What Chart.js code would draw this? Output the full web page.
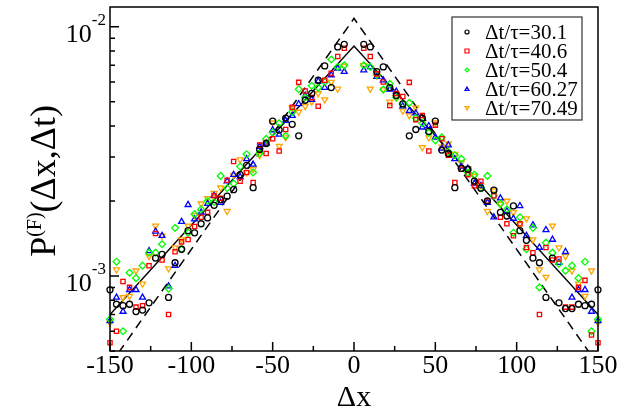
<!DOCTYPE html>
<html>
<head>
<meta charset="utf-8">
<script src="https://cdn.jsdelivr.net/npm/chart.js@4.4.0/dist/chart.umd.min.js"></script>
<style>
  html, body { margin: 0; background: #fff; }
</style>
</head>
<body>
<canvas id="chart" width="644" height="410"></canvas>
<script>
// displacement bins (left wing, then right wing)
const dx = [-150,-146,-142,-138,-134,-130,-126,-122,-118,-114,-110,-106,-102,-98,-94,-90,-86,-82,-78,-74,-70,-66,-62,-58,-54,-50,-46,-42,-38,-34,-30,-26,-22,-18,-14,-10,-6,
  6,10,14,18,22,26,30,34,38,42,46,50,54,58,62,66,70,74,78,82,86,90,94,98,102,106,110,114,118,122,126,130,134,138,142,146,150];

// P(dx,dt) in units of 1e-3, one array per dt/tau
const p30 = [0.88,0.77,0.76,0.77,0.72,0.73,0.78,1.18,1.22,0.82,1.13,1.28,1.52,1.49,1.62,1.71,1.92,2.02,2.09,2.22,2.55,2.78,2.26,3.22,3.40,4.18,3.85,4.30,4.06,3.65,5.07,5.40,6.10,6.96,5.70,8.30,8.50,
  8.50,8.30,6.60,6.90,5.70,5.30,4.90,3.65,3.87,4.30,3.80,4.18,3.20,3.10,2.26,2.70,2.68,2.40,2.25,2.00,2.21,1.80,1.74,1.91,1.52,1.39,1.18,1.13,0.82,1.18,0.78,0.74,0.74,0.77,0.76,0.77,0.88];
const p40 = [0.54,0.60,0.95,0.90,0.75,0.76,1.10,1.48,1.16,0.70,1.25,1.37,1.40,1.58,1.72,1.80,2.10,2.05,2.42,2.88,2.40,2.60,2.37,3.35,3.10,3.55,3.17,3.87,4.75,5.98,5.52,5.20,4.80,6.10,6.50,7.60,8.20,
  8.20,7.60,6.47,6.00,4.83,5.40,5.25,5.98,4.24,4.40,3.17,4.03,3.55,3.05,2.37,2.68,2.55,2.30,2.40,2.00,2.10,1.72,1.62,1.45,1.62,1.30,1.24,0.70,1.30,1.16,1.17,0.75,0.75,0.90,0.96,0.58,0.54];
const p50 = [0.67,1.14,0.60,1.03,0.98,1.10,1.24,1.24,1.34,0.89,1.56,1.28,1.49,1.77,1.85,2.00,1.98,2.52,2.25,2.35,2.75,3.08,2.60,3.10,3.55,3.76,4.10,3.65,4.55,5.61,5.20,5.80,5.70,6.00,7.39,6.90,7.00,
  7.00,6.90,6.40,5.60,5.90,5.20,4.90,4.95,4.30,4.10,3.75,3.50,3.60,3.15,3.05,2.95,2.60,2.55,2.25,2.52,2.10,1.95,1.85,1.49,1.72,1.28,1.56,0.90,1.36,1.24,1.12,1.05,1.10,0.98,1.14,0.60,0.67];
const p60 = [0.66,0.82,0.72,0.88,0.88,0.82,1.26,1.51,1.45,0.91,1.10,1.65,1.93,1.69,1.80,1.95,2.10,1.97,2.40,2.55,2.50,2.95,2.80,3.30,3.40,3.85,3.70,4.20,4.40,4.90,5.30,5.10,6.05,5.70,6.40,6.80,6.60,
  6.70,6.90,6.30,6.10,5.60,5.50,4.80,4.60,4.50,3.95,4.00,3.60,3.25,3.35,2.95,2.75,2.70,2.35,2.30,1.97,1.72,2.05,1.82,1.70,1.91,1.45,1.60,1.30,1.53,1.40,1.13,1.25,0.82,0.88,0.88,0.72,0.66];
const p70 = [0.65,1.06,0.82,0.83,1.05,0.93,1.20,1.59,1.45,1.07,1.30,1.40,1.59,1.75,1.95,2.05,2.15,2.26,1.82,2.54,2.93,2.60,2.68,3.05,3.45,4.12,3.32,3.59,4.73,4.55,4.80,5.00,5.40,5.10,6.00,5.63,6.96,
  7.00,5.63,6.35,5.60,5.00,5.20,4.60,4.40,4.73,3.28,3.59,4.12,3.30,3.40,3.08,2.85,2.70,2.52,2.30,1.82,2.20,1.95,2.00,1.80,1.61,1.70,1.40,1.06,0.99,1.59,1.30,1.20,1.05,0.93,0.83,1.05,0.65];

// exponential guides (three points each, straight on the log axis)
const guideX = [-150, 0, 150];
const solidY = [7.0e-4, 8.37e-3, 7.0e-4];
const dashedY = [4.4e-4, 1.08e-2, 4.4e-4];

const labels = ['Δt/τ=30.1', 'Δt/τ=40.6', 'Δt/τ=50.4', 'Δt/τ=60.27', 'Δt/τ=70.49'];

// tick values
const xMajor = [-150, -100, -50, 0, 50, 100, 150];
const xMinor = [-125, -75, -25, 25, 75, 125];
const yMajor = [1e-3, 1e-2];
const yMajorExp = ['-3', '-2'];
const yMinor = [5e-4, 6e-4, 7e-4, 8e-4, 9e-4, 2e-3, 3e-3, 4e-3, 5e-3, 6e-3, 7e-3, 8e-3, 9e-3];

const SERIF = '"Liberation Serif", "Times New Roman", serif';

const styles = [
  {color: '#000000', shape: 'circle', rot: 0, r: 3},
  {color: '#ff0000', shape: 'rect', rot: 0, r: 3},
  {color: '#00ff00', shape: 'rectRot', rot: 0, r: 3.4},
  {color: '#0000ff', shape: 'triangle', rot: 0, r: 3.4},
  {color: '#ffa500', shape: 'triangle', rot: 180, r: 3.4},
];

const series = [p30, p40, p50, p60, p70];
const pts = (arr) => dx.map((x, i) => ({x: x, y: arr[i] * 1e-3}));
const line = (ys) => guideX.map((x, i) => ({x: x, y: ys[i]}));

const datasets = series.map((arr, k) => ({
  label: labels[k],
  data: pts(arr),
  pointStyle: styles[k].shape,
  rotation: styles[k].rot,
  pointRadius: styles[k].r,
  pointBorderWidth: 1.3,
  borderColor: styles[k].color,
  backgroundColor: 'rgba(0,0,0,0)',
  clip: 6,
}));
datasets.push({
  label: 'solid', data: line(solidY), showLine: true, pointRadius: 0,
  borderColor: '#000', borderWidth: 1.5, clip: 0,
});
datasets.push({
  label: 'dashed', data: line(dashedY), showLine: true, pointRadius: 0,
  borderColor: '#000', borderWidth: 1.5, borderDash: [9, 6], clip: 0,
});

function marker(ctx, st, x, y, r) {
  ctx.save();
  ctx.strokeStyle = st.color;
  ctx.lineWidth = 1.2;
  ctx.beginPath();
  if (st.shape === 'circle') {
    ctx.arc(x, y, r, 0, Math.PI * 2);
  } else if (st.shape === 'rect') {
    ctx.rect(x - r, y - r, 2 * r, 2 * r);
  } else if (st.shape === 'rectRot') {
    ctx.moveTo(x, y - r); ctx.lineTo(x + r, y); ctx.lineTo(x, y + r); ctx.lineTo(x - r, y); ctx.closePath();
  } else {
    const s = st.rot ? -1 : 1;
    ctx.moveTo(x, y - s * r); ctx.lineTo(x + r, y + s * r * 0.7); ctx.lineTo(x - r, y + s * r * 0.7); ctx.closePath();
  }
  ctx.stroke();
  ctx.restore();
}

const decor = {
  id: 'decor',
  afterDraw(chart) {
    const {ctx, chartArea: a, scales: {x, y}} = chart;
    ctx.save();
    ctx.strokeStyle = '#000';
    ctx.lineWidth = 1.5;
    ctx.strokeRect(a.left, a.top, a.right - a.left, a.bottom - a.top);

    // inward ticks
    ctx.beginPath();
    xMajor.forEach(v => { const p = x.getPixelForValue(v); ctx.moveTo(p, a.bottom); ctx.lineTo(p, a.bottom - 9); });
    xMinor.forEach(v => { const p = x.getPixelForValue(v); ctx.moveTo(p, a.bottom); ctx.lineTo(p, a.bottom - 5); });
    yMajor.forEach(v => { const p = y.getPixelForValue(v); ctx.moveTo(a.left, p); ctx.lineTo(a.left + 9, p); });
    yMinor.forEach(v => { const p = y.getPixelForValue(v); ctx.moveTo(a.left, p); ctx.lineTo(a.left + 5, p); });
    ctx.stroke();

    // tick labels
    ctx.fillStyle = '#000';
    ctx.font = '26px ' + SERIF;
    ctx.textAlign = 'center';
    ctx.textBaseline = 'alphabetic';
    xMajor.forEach(v => ctx.fillText(String(v), x.getPixelForValue(v), a.bottom + 22));

    yMajor.forEach((v, i) => {
      const p = y.getPixelForValue(v);
      ctx.font = '17px ' + SERIF;
      ctx.textAlign = 'right';
      const w = ctx.measureText(yMajorExp[i]).width;
      ctx.fillText(yMajorExp[i], a.left - 4, p - 2);
      ctx.font = '26px ' + SERIF;
      ctx.fillText('10', a.left - 4 - w, p + 15);
    });

    // x title
    ctx.font = '30px ' + SERIF;
    ctx.textAlign = 'center';
    ctx.fillText('Δx', (a.left + a.right) / 2, 406);

    // y title, rotated
    ctx.save();
    ctx.translate(55, 181);
    ctx.rotate(-Math.PI / 2);
    ctx.textAlign = 'left';
    const big = '36px ' + SERIF, small = '20px ' + SERIF;
    ctx.font = big; const w1 = ctx.measureText('P').width; const w3 = ctx.measureText('(Δx,Δt)').width;
    ctx.font = small; const w2 = ctx.measureText('(F)').width;
    let cx = -(w1 + w2 + w3) / 2;
    ctx.font = big; ctx.fillText('P', cx, 0); cx += w1;
    ctx.font = small; ctx.fillText('(F)', cx, -14); cx += w2;
    ctx.font = big; ctx.fillText('(Δx,Δt)', cx, 0);
    ctx.restore();

    // legend
    ctx.fillStyle = '#fff';
    ctx.fillRect(452, 17, 130, 103);
    ctx.strokeStyle = '#333';
    ctx.lineWidth = 1.2;
    ctx.strokeRect(452, 17, 130, 103);
    ctx.fillStyle = '#000';
    ctx.font = '21px ' + SERIF;
    ctx.textAlign = 'left';
    ctx.textBaseline = 'middle';
    labels.forEach((t, i) => {
      const ly = 32 + i * 19;
      marker(ctx, styles[i], 467, ly, 2);
      ctx.fillText(t, 485, ly + 1);
    });
    ctx.restore();
  }
};

new Chart(document.getElementById('chart'), {
  type: 'scatter',
  data: {datasets: datasets},
  options: {
    responsive: false,
    animation: false,
    layout: {padding: {top: 7, right: 46, left: 0, bottom: 0}, autoPadding: false},
    plugins: {legend: {display: false}, tooltip: {enabled: false}},
    scales: {
      x: {
        type: 'linear', min: -150, max: 150,
        ticks: {display: false}, grid: {display: false}, border: {display: false},
        afterFit: (s) => { s.height = 59; },
      },
      y: {
        type: 'logarithmic', min: 5e-4, max: 1.2e-2,
        ticks: {display: false}, grid: {display: false}, border: {display: false},
        afterFit: (s) => { s.width = 110; },
      },
    },
  },
  plugins: [decor],
});
</script>
</body>
</html>
